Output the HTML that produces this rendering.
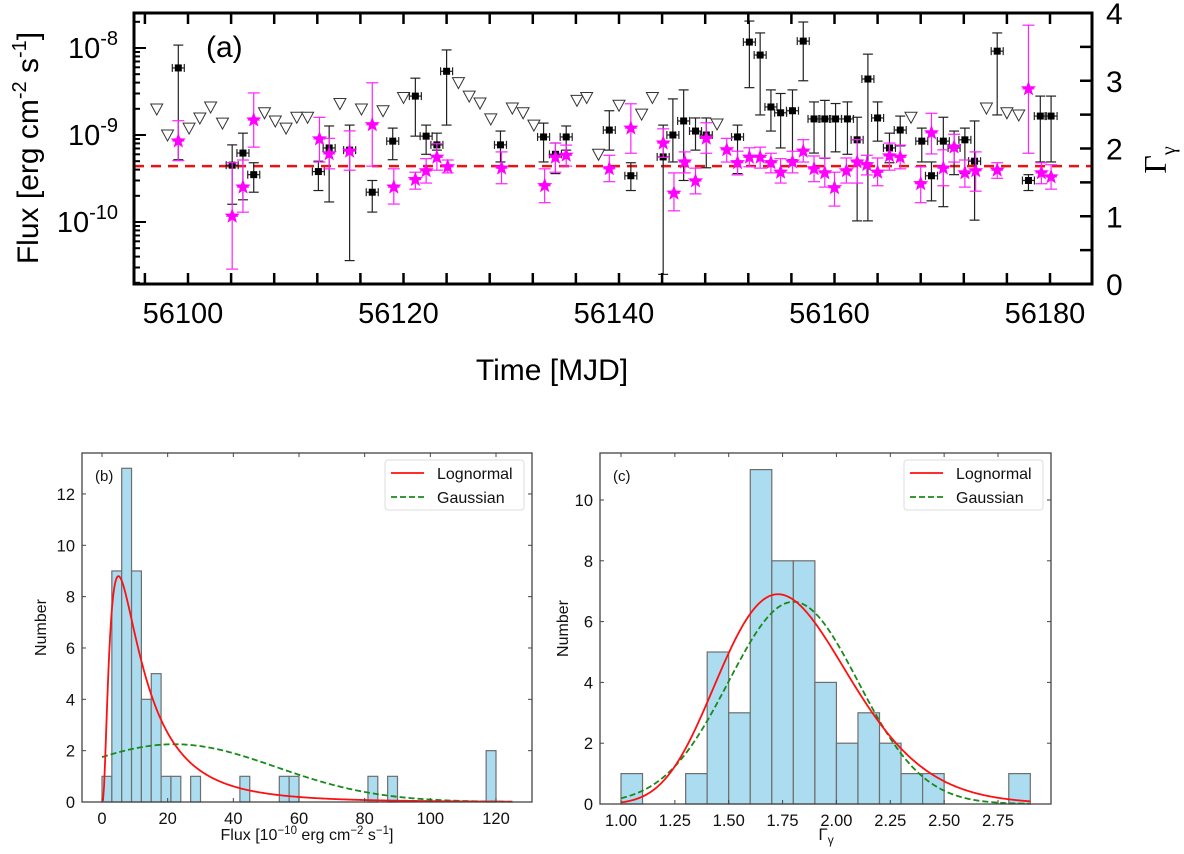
<!DOCTYPE html>
<html><head><meta charset="utf-8"><style>
html,body{margin:0;padding:0;background:#fff}
svg{display:block;font-family:"Liberation Sans",sans-serif}
</style></head><body>
<svg id="fig" width="1184" height="854" viewBox="0 0 1184 854" xmlns="http://www.w3.org/2000/svg">
<g id="pa"></g>
<g id="pb"></g>
<g id="pc"></g>
</svg>
<script>
// ---------- Panel (a) data ----------
const sqMjd=[56099.1,56104.1,56105.1,56106.1,56112.1,56113.1,56115.0,56117.1,56119.0,56121.1,56122.1,56123.1,56124.0,56129.0,56133.0,56134.1,56135.1,56139.1,56141.1,56144.1,56145.0,56146.0,56147.1,56148.1,56151.0,56152.1,56153.1,56154.1,56155.0,56156.1,56157.1,56158.1,56159.1,56160.1,56161.2,56162.1,56163.1,56164.0,56165.1,56166.1,56168.1,56169.0,56170.1,56171.1,56172.1,56173.0,56175.1,56178.0,56179.1,56180.1];
const sqFlux=[59,4.5,6.2,3.5,3.8,7.1,6.7,2.2,8.5,28,9.7,7.7,54,7.7,9.5,6.0,9.5,11.4,3.4,5.6,10,14.5,11.1,10,9.5,117,83,21,18,19,120,15.3,15.3,15.3,15.3,8.8,44,15.7,7.1,11.4,8.5,3.4,8.5,7.1,8.8,5.0,92,3.0,16.5,16.5];
const sqLo=[5.2,1.6,1.8,2.2,2.3,1.7,0.36,1.3,5.2,9.7,6.0,6.7,13,4.9,4.9,3.6,6.7,6.7,2.3,0.25,4.9,3.0,6.7,4.2,3.6,35,17,11.1,7.1,5.2,42,6.2,5.4,6.4,6.0,1.03,1.03,8.5,4.8,7.5,4.9,1.75,1.5,3.5,3.6,1.05,17,2.3,4.9,4.9];
const sqHi=[108,7.7,10.5,4.8,5.0,12.7,13,3.0,12,45,13,10.5,95,11.1,13.7,8.1,12.7,19,4.8,13,26,33,15.7,15.7,13,204,149,33,30,33,199,24,25,23,24,16,85,24,10.5,16.5,12,4.9,16,11.1,12,14.5,149,3.5,28,28];
const stMjd=[56099.1,56104.1,56105.1,56106.1,56112.2,56113.1,56115.0,56117.1,56119.1,56121.1,56122.1,56123.1,56124.1,56129.1,56133.1,56134.1,56135.1,56139.1,56141.1,56144.1,56145.1,56146.1,56147.1,56148.1,56150.0,56151.0,56152.1,56153.1,56154.1,56155.0,56156.1,56157.1,56158.1,56159.1,56160.0,56161.1,56162.1,56163.0,56164.0,56165.1,56166.1,56168.0,56169.0,56170.1,56171.1,56172.1,56173.1,56175.1,56178.0,56179.2,56180.1];
const stGam=[2.11,1.00,1.43,2.42,2.14,1.92,1.96,2.35,1.43,1.54,1.67,1.87,1.73,1.71,1.45,1.87,1.90,1.70,2.30,2.08,1.34,1.80,1.52,2.15,1.98,1.79,1.87,1.87,1.79,1.65,1.80,1.96,1.70,1.64,1.42,1.67,1.80,1.76,1.65,1.89,1.87,1.48,2.23,1.71,2.02,1.64,1.67,1.68,2.88,1.64,1.58];
const stHi=[2.41,1.79,1.83,2.82,2.46,2.15,2.26,2.97,1.70,1.65,1.85,2.07,1.83,1.95,1.70,2.08,2.05,1.90,2.66,2.29,1.64,1.95,1.71,2.38,2.15,1.96,2.01,2.02,1.93,1.85,1.96,2.13,1.89,1.86,1.65,1.86,2.13,1.90,1.86,2.08,2.05,1.73,2.52,1.98,2.21,1.83,1.95,1.79,3.82,1.79,1.76];
const stLo=[1.82,0.22,1.06,2.02,1.80,1.70,1.68,1.74,1.18,1.40,1.49,1.68,1.64,1.48,1.20,1.65,1.74,1.51,1.93,1.87,1.08,1.64,1.33,1.93,1.80,1.61,1.73,1.71,1.64,1.49,1.64,1.80,1.51,1.43,1.15,1.49,1.49,1.61,1.45,1.68,1.70,1.20,1.92,1.45,1.80,1.43,1.37,1.56,1.93,1.48,1.40];
const ulMjd=[56097.1,56098.1,56100.1,56101.1,56102.1,56103.2,56107.1,56108.1,56109.1,56110.1,56111.1,56114.1,56116.1,56118.1,56120.0,56125.1,56126.1,56127.1,56128.1,56130.1,56131.1,56132.1,56136.1,56137.0,56138.1,56140.0,56142.1,56143.1,56149.1,56167.1,56174.1,56176.0,56177.1];
const ulFlux=[19.9,10,12,15.7,21,13.7,18,14.5,12,16,16,23,19.9,19,27,40,28,23.3,15.3,20.4,18,13,25,27,6.0,22,17.4,27,13.4,16,20.4,18,17];
const meanGamma=[1.74];
const xTicksA=[56100,56120,56140,56160,56180];
const gTicks=[0,1,2,3,4];
const fluxDecades=[-10,-9,-8];

// ---------- Panel (b) data ----------
const bBinLo=[0,3,6,9,12,15,18,21,27,42,54,57,81,87,117];
const bCounts=[1,9,13,9,4,5,1,1,1,1,1,1,1,1,2];
const bBinW=[3];
const bLogn=[8.8,2.42,0.9];
const bGauss=[2.25,22,31];
const bXTicks=[0,20,40,60,80,100,120];
const bYTicks=[0,2,4,6,8,10,12];

// ---------- Panel (c) data ----------
const cBinLo=[1.0,1.3,1.4,1.5,1.6,1.7,1.8,1.9,2.0,2.1,2.2,2.3,2.4,2.8];
const cCounts=[1,1,5,3,11,8,8,4,2,3,2,1,1,1];
const cBinW=[0.1];
const cLogn=[6.9,0.578,0.175];
const cGauss=[6.65,1.80,0.30];
const cXTicks=[1.00,1.25,1.50,1.75,2.00,2.25,2.50,2.75];
const cYTicks=[0,2,4,6,8,10];

const NS='http://www.w3.org/2000/svg';
function mk(parent,tag,attrs,text){const e=document.createElementNS(NS,tag);for(const k in attrs)e.setAttribute(k,attrs[k]);if(text!==undefined)e.textContent=text;parent.appendChild(e);return e;}

// ===== Panel A =====
(function(){
const g=document.getElementById('pa');
const L=134,R=1092,T=13,B=284;
const xA=m=>188+(m-56100)*10.775;
const yF=f=>222-Math.log10(f)*87;
const yG=v=>284-v*67.75;
let ln=mk(g,'line',{x1:L,x2:R,y1:yG(meanGamma[0]),y2:yG(meanGamma[0]),stroke:'#ee1111','stroke-width':2.5,'stroke-dasharray':'10,7'});

for(let i=0;i<ulMjd.length;i++){const x=xA(ulMjd[i]),y=yF(ulFlux[i]);
 const p=mk(g,'polygon',{points:`${x-6},${y-5} ${x+6},${y-5} ${x},${y+6}`,fill:'#fff',stroke:'#333','stroke-width':1});
 }
for(let i=0;i<sqMjd.length;i++){const x=xA(sqMjd[i]),y=yF(sqFlux[i]),y1=yF(sqHi[i]),y2=yF(sqLo[i]);
 const gg=mk(g,'g',{stroke:'#222','stroke-width':1.2});
 
 mk(gg,'line',{x1:x,x2:x,y1:y1,y2:y2});
 mk(gg,'line',{x1:x-5,x2:x+5,y1:y1,y2:y1});mk(gg,'line',{x1:x-5,x2:x+5,y1:y2,y2:y2});
 mk(gg,'line',{x1:x-6,x2:x+6,y1:y,y2:y});mk(gg,'line',{x1:x-6,x2:x-6,y1:y-4,y2:y+4});mk(gg,'line',{x1:x+6,x2:x+6,y1:y-4,y2:y+4});
 mk(gg,'rect',{x:x-3.5,y:y-3.5,width:7,height:7,fill:'#000',stroke:'none'});}
function star(cx,cy,r){let s='';for(let k=0;k<10;k++){const a=-Math.PI/2+k*Math.PI/5,rr=k%2?r*0.42:r;s+=(cx+rr*Math.cos(a)).toFixed(1)+','+(cy+rr*Math.sin(a)).toFixed(1)+' ';}return s;}
for(let i=0;i<stMjd.length;i++){const x=xA(stMjd[i]),y=yG(stGam[i]),y1=yG(stHi[i]),y2=yG(stLo[i]);
 const gg=mk(g,'g',{stroke:'#ff22ff','stroke-width':1.2});
 
 mk(gg,'line',{x1:x,x2:x,y1:y1,y2:y2});
 mk(gg,'line',{x1:x-6,x2:x+6,y1:y1,y2:y1});mk(gg,'line',{x1:x-6,x2:x+6,y1:y2,y2:y2});
 mk(gg,'line',{x1:x-6,x2:x+6,y1:y,y2:y});
 mk(gg,'polygon',{points:star(x,y,8),fill:'#ff00ff',stroke:'none'});}
const fr=mk(g,'rect',{x:L,y:T,width:R-L,height:B-T,fill:'none',stroke:'#000','stroke-width':3});

for(let m=56096;m<=56184;m+=4){const x=xA(m);if(x<=L||x>=R)continue;
 mk(g,'line',{x1:x,x2:x,y1:B,y2:B-11,stroke:'#000','stroke-width':2.5});
 mk(g,'line',{x1:x,x2:x,y1:T,y2:T+11,stroke:'#000','stroke-width':2.5});}
for(const m of xTicksA){const t=mk(g,'text',{x:xA(m)-5,y:323,'font-size':29,'text-anchor':'middle',fill:'#000'},String(m));
 }
for(let d=-11;d<=-8;d++){for(let k=1;k<10;k++){const f=Math.pow(10,d+10)*k;const y=yF(f);if(y<T+1||y>B-1)continue;
 mk(g,'line',{x1:L,x2:L+(k==1?12:6),y1:y,y2:y,stroke:'#000','stroke-width':2});}}
for(const d of fluxDecades){const y=yF(Math.pow(10,d+10));
 const t=mk(g,'text',{x:118,y:y+10,'font-size':29,'text-anchor':'end',fill:'#000'});
 
 mk(t,'tspan',{},'10');mk(t,'tspan',{dy:-13,'font-size':20},String(d));}
for(let v=0.5;v<4;v+=0.5){const y=yG(v);mk(g,'line',{x1:R,x2:R-12,y1:y,y2:y,stroke:'#000','stroke-width':2.5});}
for(const v of gTicks){const t=mk(g,'text',{x:1106,y:yG(v)+11,'font-size':30,fill:'#000'},String(v));
 }
let t=mk(g,'text',{x:206,y:57,'font-size':30,fill:'#000'},'(a)');
t=mk(g,'text',{x:552,y:380,'font-size':30,'text-anchor':'middle',fill:'#000'},'Time [MJD]');
t=mk(g,'text',{x:0,y:0,'font-size':30,'text-anchor':'middle',fill:'#000',transform:'translate(38,148) rotate(-90)'});

mk(t,'tspan',{},'Flux [erg cm');mk(t,'tspan',{dy:-12,'font-size':20},'-2');mk(t,'tspan',{dy:12},' s');mk(t,'tspan',{dy:-12,'font-size':20},'-1');mk(t,'tspan',{dy:12},']');
t=mk(g,'text',{x:0,y:0,'font-size':32,'font-family':'Liberation Serif, serif','text-anchor':'middle',fill:'#000',transform:'translate(1166,160) rotate(-90)'});

mk(t,'tspan',{},'Γ');mk(t,'tspan',{dy:9,'font-size':20},'γ');
})();

// ===== Histogram panels =====
function hist(id,o){
const g=document.getElementById(id);
const {L,R,T,B,x0,x1,xv0,xv1,yPer}=o;
const X=v=>x0+(v-xv0)*(x1-x0)/(xv1-xv0);
const Y=v=>B-v*yPer;
for(let i=0;i<o.lo.length;i++){const r=mk(g,'rect',{x:X(o.lo[i]),y:Y(o.cnt[i]),width:X(o.lo[i]+o.w)-X(o.lo[i]),height:o.cnt[i]*yPer,fill:'#abdcf0',stroke:'#6e6e6e','stroke-width':1.2});
 }
const lnF=(v,p)=>Math.exp(-Math.pow(Math.log(v)-p[1],2)/(2*p[2]*p[2]))/v;
const lnMode=Math.exp(o.logn[1]-o.logn[2]*o.logn[2]);const lnMax=lnF(lnMode,o.logn);
let d1='',d2='';const N=400;
for(let k=0;k<=N;k++){const v=o.c0+(o.c1-o.c0)*k/N;const vv=Math.max(v,1e-6);
 const yl=o.logn[0]*lnF(vv,o.logn)/lnMax;const yg=o.gauss[0]*Math.exp(-Math.pow(v-o.gauss[1],2)/(2*o.gauss[2]*o.gauss[2]));
 d1+=(k?'L':'M')+X(v).toFixed(2)+','+Y(yl).toFixed(2);d2+=(k?'L':'M')+X(v).toFixed(2)+','+Y(yg).toFixed(2);}
let p=mk(g,'path',{d:d2,fill:'none',stroke:'#1a8a1a','stroke-width':1.8,'stroke-dasharray':'6,3'});
p=mk(g,'path',{d:d1,fill:'none',stroke:'#ff1010','stroke-width':1.8});
const fr=mk(g,'rect',{x:L,y:T,width:R-L,height:B-T,fill:'none',stroke:'#444','stroke-width':1.3});
for(const v of o.xt){const x=X(v);mk(g,'line',{x1:x,x2:x,y1:B,y2:B-4,stroke:'#444'});mk(g,'line',{x1:x,x2:x,y1:T,y2:T+4,stroke:'#444'});
 const t=mk(g,'text',{x:x,y:B+22,'font-size':16.5,'text-anchor':'middle',fill:'#111'},o.fmt(v));}
for(const v of o.yt){const y=Y(v);mk(g,'line',{x1:L,x2:L+4,y1:y,y2:y,stroke:'#444'});mk(g,'line',{x1:R,x2:R-4,y1:y,y2:y,stroke:'#444'});
 const t=mk(g,'text',{x:L-7,y:y+6,'font-size':16.5,'text-anchor':'end',fill:'#111'},String(v));}
let t=mk(g,'text',{x:L+13,y:T+28,'font-size':15,fill:'#111'},o.lab);
t=mk(g,'text',{x:0,y:0,'font-size':16,'text-anchor':'middle',fill:'#111',transform:`translate(${o.ylx},${(T+B)/2}) rotate(-90)`},'Number');
o.xlabel(g,(L+R)/2);
const lg=mk(g,'g',{});
const lx=R-147;
mk(lg,'rect',{x:lx,y:T+7,width:139,height:50,rx:3,fill:'#fff',stroke:'#ddd'});
mk(lg,'line',{x1:lx+6,x2:lx+39,y1:T+20,y2:T+20,stroke:'#ff1010','stroke-width':1.8});
mk(lg,'line',{x1:lx+6,x2:lx+39,y1:T+44,y2:T+44,stroke:'#1a8a1a','stroke-width':1.8,'stroke-dasharray':'6,3'});
let e=mk(lg,'text',{x:lx+52,y:T+26,'font-size':16,fill:'#111'},'Lognormal');
e=mk(lg,'text',{x:lx+52,y:T+50,'font-size':16,fill:'#111'},'Gaussian');
}
hist('pb',{L:82,R:532,T:453,B:802,x0:102,x1:496,xv0:0,xv1:120,yPer:25.67,lo:bBinLo,cnt:bCounts,w:bBinW[0],logn:bLogn,gauss:bGauss,c0:0,c1:125,xt:bXTicks,yt:bYTicks,fmt:v=>String(v),lab:'(b)',ylx:46,
 xlabel:(g,cx)=>{const t=mk(g,'text',{x:cx,y:840,'font-size':16,'text-anchor':'middle',fill:'#111'});
 mk(t,'tspan',{},'Flux [10');mk(t,'tspan',{dy:-6,'font-size':11.5},'−10');mk(t,'tspan',{dy:6},' erg cm');mk(t,'tspan',{dy:-6,'font-size':11.5},'−2');mk(t,'tspan',{dy:6},' s');mk(t,'tspan',{dy:-6,'font-size':11.5},'−1');mk(t,'tspan',{dy:6},']');}});
hist('pc',{L:600,R:1051,T:453,B:804,x0:621,x1:998,xv0:1.0,xv1:2.75,yPer:30.4,lo:cBinLo,cnt:cCounts,w:cBinW[0],logn:cLogn,gauss:cGauss,c0:1.0,c1:2.9,xt:cXTicks,yt:cYTicks,fmt:v=>v.toFixed(2),lab:'(c)',ylx:568,
 xlabel:(g,cx)=>{const t=mk(g,'text',{x:826,y:840,'font-size':17,'text-anchor':'middle',fill:'#111'});
 mk(t,'tspan',{},'Γ');mk(t,'tspan',{dy:4,'font-size':12},'γ');}});
</script>
</body></html>
